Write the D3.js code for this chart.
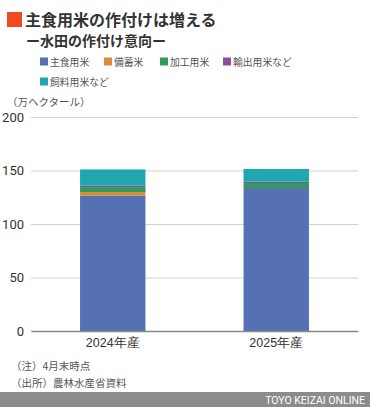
<!DOCTYPE html>
<html><head><meta charset="utf-8">
<script src="https://cdn.jsdelivr.net/npm/d3@7"></script>
<style>body{margin:0;background:#fff;}svg{display:block;font-family:"Noto Sans CJK JP","Noto Sans",sans-serif;}</style>
</head><body>
<svg id="c" width="370" height="407"></svg>
<script>
const categories = ["2024年産", "2025年産"];
const seriesNames = ["主食用米", "備蓄米", "加工用米", "輸出用米など", "飼料用米など"];
const shushoku = [126.3, 133.6];
const bichiku = [3.5, 0];
const kakou = [4.7, 4.7];
const yushutsu = [1.5, 1.2];
const shiryou = [15.0, 11.9];
const yTicks = [0, 50, 100, 150, 200];
const colors = ["#5571b3", "#d98a3c", "#2f9a5c", "#8d4c9c", "#1ea7b1"];

const svg = d3.select("#c");
const W = 370, H = 407;
const margin = {left: 31, right: 12, top: 117, bottom: 76};
const series = [shushoku, bichiku, kakou, yushutsu, shiryou];
const rows = categories.map((c, i) => {
  const o = {cat: c};
  seriesNames.forEach((s, k) => o[s] = series[k][i]);
  return o;
});
const stacked = d3.stack().keys(seriesNames)(rows);

const x = d3.scaleBand().domain(categories).range([margin.left, W - margin.right]).paddingInner(0.6).paddingOuter(0.3);
const y = d3.scaleLinear().domain([0, 200]).range([H - margin.bottom, margin.top]);

// title
svg.append("rect").attr("x", 7).attr("y", 12).attr("width", 15).attr("height", 15).attr("fill", "#f04b1e");
svg.append("text").attr("x", 25).attr("y", 26).attr("font-size", 16).attr("font-weight", "bold").attr("fill", "#333").text("主食用米の作付けは増える");
svg.append("text").attr("x", 26).attr("y", 46).attr("font-size", 14).attr("font-weight", "bold").attr("fill", "#333").text("ー水田の作付け意向ー");

// legend
const legPos = [[40, 62], [104, 62], [160, 62], [223, 62], [40, 82]];
seriesNames.forEach((s, k) => {
  const g = svg.append("g").attr("transform", `translate(${legPos[k][0]},${legPos[k][1]})`);
  g.append("rect").attr("x", 0).attr("y", -4.5).attr("width", 8).attr("height", 8).attr("fill", colors[k]);
  g.append("text").attr("x", 10).attr("y", 3.5).attr("font-size", 9.8).attr("fill", "#555").text(s);
});

svg.append("text").attr("x", 7).attr("y", 106).attr("font-size", 10.5).attr("fill", "#555").text("（万ヘクタール）");

// grid
const yAxis = d3.axisLeft(y).tickValues(yTicks).tickSize(-(W - margin.right - margin.left)).tickPadding(7);
const ga = svg.append("g").attr("transform", `translate(${margin.left},0)`).call(yAxis);
ga.select(".domain").remove();
ga.selectAll(".tick line").attr("stroke", "#d2d2d2").attr("stroke-width", 1.2);
ga.selectAll(".tick text").attr("font-size", 13).attr("fill", "#333").attr("font-family", "Roboto, 'Noto Sans', sans-serif");

// bars
svg.append("g").selectAll("g").data(stacked).join("g").attr("fill", (d, i) => colors[i])
  .selectAll("rect").data(d => d).join("rect")
  .attr("x", d => x(d.data.cat)).attr("width", x.bandwidth())
  .attr("y", d => y(d[1])).attr("height", d => Math.max(0, y(d[0]) - y(d[1])));

// x axis
const xAxis = d3.axisBottom(x).tickSize(0).tickPadding(7);
const gx = svg.append("g").attr("transform", `translate(0,${y(0)})`).call(xAxis);
gx.select(".domain").attr("stroke", "#888").attr("stroke-width", 1.3);
gx.selectAll(".tick text").attr("font-size", 12.5).attr("fill", "#333");

// notes
svg.append("text").attr("x", 11).attr("y", 370).attr("font-size", 10.5).attr("fill", "#555").text("（注）4月末時点");
svg.append("text").attr("x", 11).attr("y", 387).attr("font-size", 10.5).attr("fill", "#555").text("（出所）農林水産省資料");

// footer
svg.append("rect").attr("x", 0).attr("y", 392).attr("width", W).attr("height", H - 392).attr("fill", "#8c8c8c");
svg.append("text").attr("x", 365).attr("y", 404).attr("text-anchor", "end").attr("font-size", 10.5).attr("fill", "#fff").attr("font-family", "Roboto, 'Noto Sans', sans-serif").text("TOYO KEIZAI ONLINE");
</script>
</body></html>
